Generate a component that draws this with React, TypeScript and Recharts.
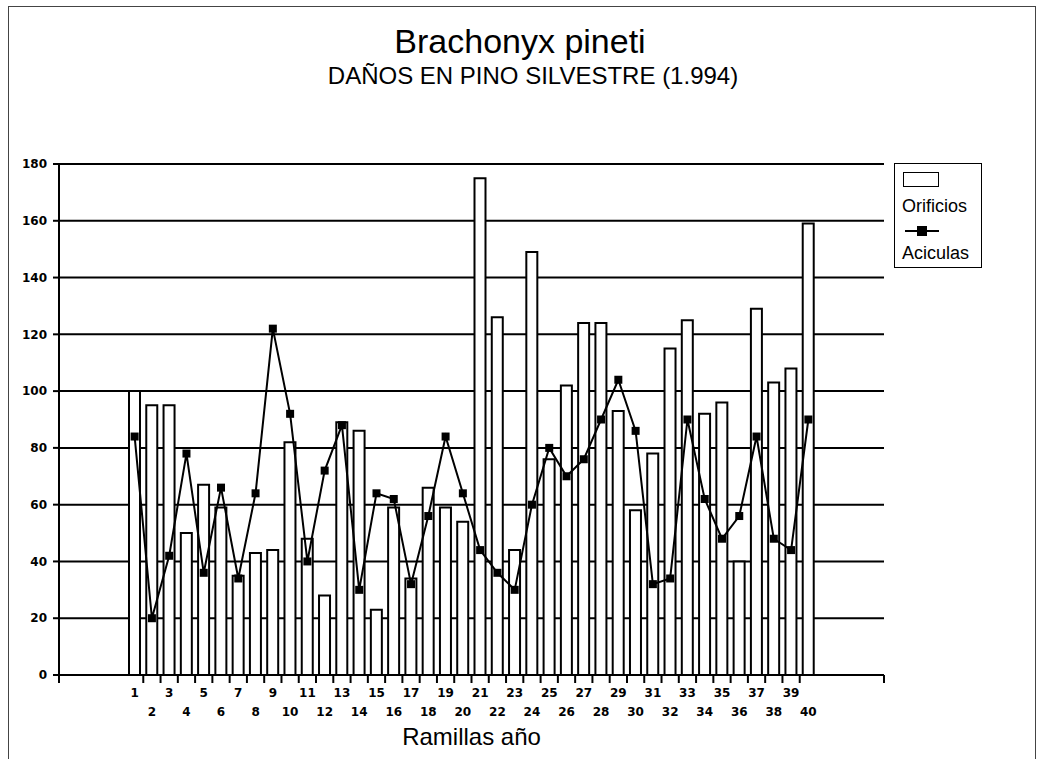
import { Bar, CartesianGrid, ComposedChart, Label, Legend, Line, XAxis, YAxis } from "recharts";

// Ramillas año (eje X)
const RAMILLAS = [
  "1", "2", "3", "4", "5", "6", "7", "8", "9", "10",
  "11", "12", "13", "14", "15", "16", "17", "18", "19", "20",
  "21", "22", "23", "24", "25", "26", "27", "28", "29", "30",
  "31", "32", "33", "34", "35", "36", "37", "38", "39", "40",
];

// barras blancas
const ORIFICIOS = [
  100, 95, 95, 50, 67, 59, 35, 43, 44, 82,
  48, 28, 89, 86, 23, 59, 34, 66, 59, 54,
  175, 126, 44, 149, 76, 102, 124, 124, 93, 58,
  78, 115, 125, 92, 96, 40, 129, 103, 108, 159,
];

// línea con cuadrados
const ACICULAS = [
  84, 20, 42, 78, 36, 66, 34, 64, 122, 92,
  40, 72, 88, 30, 64, 62, 32, 56, 84, 64,
  44, 36, 30, 60, 80, 70, 76, 90, 104, 86,
  32, 34, 90, 62, 48, 56, 84, 48, 44, 90,
];

const Y_TICKS = [0, 20, 40, 60, 80, 100, 120, 140, 160, 180];

const data = RAMILLAS.map((ramilla, i) => ({
  ramilla,
  orificios: ORIFICIOS[i],
  aciculas: ACICULAS[i],
}));

const FONT = '"Liberation Sans", Arial, Helvetica, sans-serif';
const TICK_FONT = '"DejaVu Sans", Verdana, sans-serif';
const PAD_L = 67;
const PAD_R = 67;
const TICK_LEN = 8;

/* etiquetas escalonadas: impares arriba, pares abajo; marcas entre barras */
function RamillaTick(props: any) {
  const { x, y, payload, index } = props;
  const half = payload?.offset || 8.6;
  const axisY = y - TICK_LEN;
  const lower = index % 2 === 1;
  const last = index === RAMILLAS.length - 1;
  return (
    <g>
      {!last && (
        <line x1={x + half} x2={x + half} y1={axisY} y2={axisY + TICK_LEN} stroke="#000" strokeWidth={2} />
      )}
      {index === 0 && (
        <line x1={x - half - PAD_L} x2={x - half - PAD_L} y1={axisY} y2={axisY + TICK_LEN} stroke="#000" strokeWidth={2} />
      )}
      {last && (
        <line x1={x + half + PAD_R} x2={x + half + PAD_R} y1={axisY} y2={axisY + TICK_LEN} stroke="#000" strokeWidth={2} />
      )}
      <text
        x={x}
        y={axisY + (lower ? 41 : 22)}
        textAnchor="middle"
        fontFamily={TICK_FONT}
        fontWeight="bold"
        fontSize={12}
        fill="#000"
      >
        {payload.value}
      </text>
    </g>
  );
}

function SquareDot(props: any) {
  const { cx, cy, index } = props;
  if (cx == null || cy == null) return null;
  return <rect key={index} x={cx - 4} y={cy - 4} width={8} height={8} fill="#000" />;
}

function LegendBox() {
  return (
    <div
      style={{
        width: 88,
        height: 105,
        boxSizing: "border-box",
        border: "1.5px solid #000",
        background: "#fff",
        fontFamily: FONT,
        fontSize: 18,
        color: "#000",
        position: "relative",
      }}
    >
      <div style={{ position: "absolute", left: 8, top: 8, width: 36, height: 15, border: "1.5px solid #000", boxSizing: "border-box" }} />
      <div style={{ position: "absolute", left: 7, top: 31, lineHeight: "22px" }}>Orificios</div>
      <div style={{ position: "absolute", left: 10, top: 66, width: 34, height: 2, background: "#000" }} />
      <div style={{ position: "absolute", left: 22, top: 62, width: 10, height: 10, background: "#000" }} />
      <div style={{ position: "absolute", left: 7, top: 78, lineHeight: "22px" }}>Aciculas</div>
    </div>
  );
}

export default function App() {
  return (
    <div style={{ position: "absolute", left: 0, top: 0, width: 1040, height: 759, background: "#fff", overflow: "hidden" }}>
      <div
        style={{
          position: "absolute",
          left: 8,
          top: 6,
          width: 1028,
          height: 800,
          border: "1px solid #444",
          boxSizing: "border-box",
        }}
      />
      <div
        style={{
          position: "absolute",
          left: 0,
          width: 1040,
          top: 22,
          textAlign: "center",
          fontFamily: FONT,
          fontSize: 34,
          lineHeight: "38px",
          color: "#000",
        }}
      >
        Brachonyx pineti
      </div>
      <div
        style={{
          position: "absolute",
          left: 13,
          width: 1040,
          top: 62,
          textAlign: "center",
          fontFamily: FONT,
          fontSize: 24,
          lineHeight: "28px",
          color: "#000",
        }}
      >
        DAÑOS EN PINO SILVESTRE (1.994)
      </div>
      <ComposedChart
        width={1040}
        height={759}
        data={data}
        margin={{ top: 164, right: 156, bottom: 14, left: 0 }}
        barSize={11}
        style={{ position: "absolute", left: 0, top: 0 }}
      >
        <CartesianGrid vertical={false} stroke="#000" strokeWidth={2} />
        <XAxis
          dataKey="ramilla"
          interval={0}
          padding={{ left: PAD_L, right: PAD_R }}
          height={70}
          tickSize={TICK_LEN}
          tickMargin={0}
          tickLine={false}
          axisLine={{ stroke: "#000", strokeWidth: 2 }}
          tick={<RamillaTick />}
        >
          <Label
            value="Ramillas año"
            position="insideBottom"
            offset={0}
            style={{ fontFamily: FONT, fontSize: 24, fill: "#000" }}
          />
        </XAxis>
        <YAxis
          domain={[0, 180]}
          ticks={Y_TICKS}
          interval={0}
          width={59}
          tickSize={6}
          tickMargin={6}
          axisLine={{ stroke: "#000", strokeWidth: 2 }}
          tickLine={{ stroke: "#000", strokeWidth: 2 }}
          tick={{ fontFamily: TICK_FONT, fontWeight: "bold", fontSize: 12, fill: "#000" }}
        />
        <YAxis
          yAxisId="borde"
          orientation="right"
          domain={[0, 180]}
          width={0}
          tick={false}
          tickLine={false}
          axisLine={{ stroke: "#000", strokeWidth: 2 }}
        />
        <Legend
          layout="horizontal"
          align="center"
          verticalAlign="middle"
          wrapperStyle={{ position: "absolute", left: 894, top: 163, width: 88, height: 105 }}
          content={() => <LegendBox />}
        />
        <Bar dataKey="orificios" name="Orificios" fill="#fff" stroke="#000" strokeWidth={2} isAnimationActive={false} />
        <Line
          type="linear"
          dataKey="aciculas"
          name="Aciculas"
          stroke="#000"
          strokeWidth={2}
          dot={<SquareDot />}
          activeDot={false}
          isAnimationActive={false}
        />
      </ComposedChart>
    </div>
  );
}
